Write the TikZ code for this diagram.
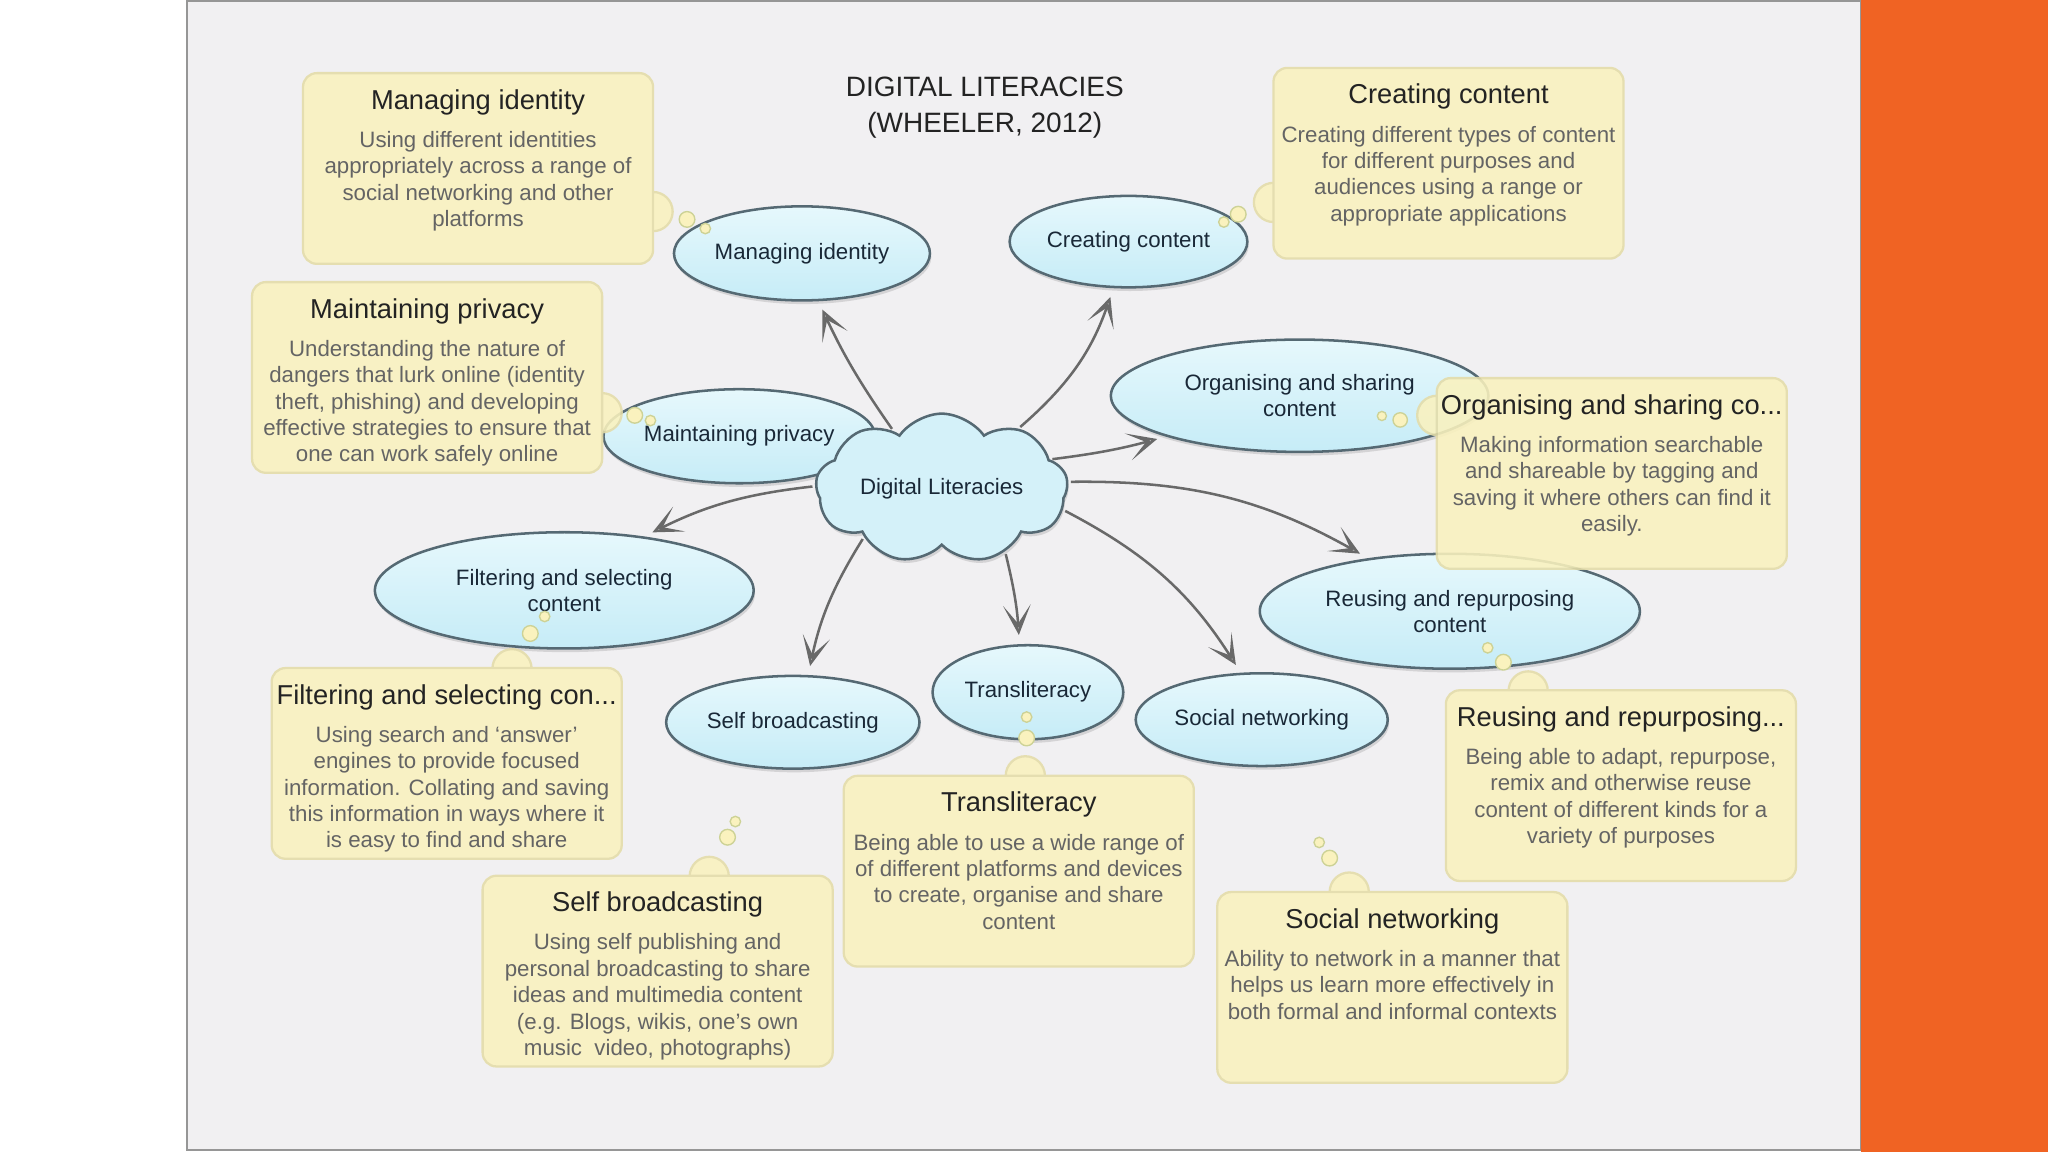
\documentclass[tikz,border=0pt]{standalone}
\usepackage{fontspec}
\setmainfont{Liberation Sans}
\usepackage{tikz}
\usetikzlibrary{shapes,shapes.geometric,shapes.symbols,arrows.meta,positioning,shadows}

\definecolor{slidebg}{RGB}{241,240,242}
\definecolor{slideline}{RGB}{150,150,150}
\definecolor{sidebar}{RGB}{240,99,35}
\definecolor{ellfill}{RGB}{198,236,247}
\definecolor{elltop}{RGB}{230,248,252}
\definecolor{ellline}{RGB}{85,105,115}
\definecolor{ellink}{RGB}{25,40,55}
\definecolor{notefill}{RGB}{250,242,190}
\definecolor{noteline}{RGB}{228,220,168}
\definecolor{notehead}{RGB}{35,35,35}
\definecolor{noteink}{RGB}{100,100,100}
\definecolor{puffline}{RGB}{205,210,150}
\definecolor{spokecol}{RGB}{105,105,105}

\tikzset{
  literacy/.style={ellipse, draw=ellline, line width=1.1pt, top color=elltop, bottom color=ellfill,
    inner sep=0pt, align=center, text=ellink, font=\fontsize{9.7}{11.4}\selectfont,
    drop shadow={opacity=0.25, shadow xshift=0.6pt, shadow yshift=-1.6pt}},
  hub/.style={cloud, cloud puffs=9, cloud puff arc=110, aspect=2, draw=ellline, line width=1.1pt,
    fill=ellfill!75!white, text=ellink, inner sep=0pt, font=\fontsize{9.7}{11.4}\selectfont,
    minimum width=3.86cm, minimum height=1.9cm,
    drop shadow={opacity=0.25, shadow xshift=0.6pt, shadow yshift=-1.6pt}},
  callout/.style={rectangle, rounded corners=6pt, draw=noteline, line width=1pt, fill=notefill,
    minimum width=5.36cm, minimum height=2.92cm},
  bump/.style={draw=noteline, line width=1pt, fill=notefill},
  noteGroup/.style={transparency group, opacity=0.88},
  calloutTitle/.style={inner sep=0pt, text=notehead, font=\fontsize{11.9}{14}\selectfont},
  calloutText/.style={inner sep=0pt, align=center, text=noteink, font=\fontsize{9.7}{11.5}\selectfont},
  puff/.style={draw=puffline, line width=0.6pt, fill=notefill},
  spoke/.style={draw=spokecol, line width=1.1pt, -{Stealth[open,length=13pt,width=12pt,inset=8pt]},
    shorten >=4pt, shorten <=1pt},
}

\begin{document}
\begin{tikzpicture}
    \useasboundingbox (0,0) rectangle (31.36,17.64);
    % Slide and side bar
    \fill[white] (0,0) rectangle (2.86,17.64);
    \draw[fill=slidebg, draw=slideline, line width=0.8pt] (2.86,0.03) rectangle (28.5,17.62);
    \fill[sidebar] (28.5,0) rectangle (31.36,17.64);

    % Heading
    \node[align=center, text=notehead, font=\fontsize{12.2}{15.4}\selectfont] (heading) at (15.08,15.99) {DIGITAL LITERACIES\\(WHEELER, 2012)};

    % Literacies
    \node[literacy, minimum width=3.92cm, minimum height=1.44cm] (mi) at (12.28,13.76) {Managing identity};
    \node[literacy, minimum width=3.64cm, minimum height=1.40cm] (cc) at (17.28,13.94) {Creating content};
    \node[literacy, minimum width=5.78cm, minimum height=1.72cm] (os) at (19.90,11.58) {Organising and sharing\\content};
    \node[literacy, minimum width=4.16cm, minimum height=1.44cm] (mp) at (11.32,10.96) {Maintaining privacy};
    \node[literacy, minimum width=5.80cm, minimum height=1.78cm] (fs) at (8.64,8.60) {Filtering and selecting\\content};
    \node[literacy, minimum width=5.82cm, minimum height=1.76cm] (rr) at (22.20,8.28) {Reusing and repurposing\\content};
    \node[literacy, minimum width=3.88cm, minimum height=1.42cm] (sb) at (12.14,6.58) {Self broadcasting};
    \node[literacy, minimum width=2.92cm, minimum height=1.44cm] (tl) at (15.74,7.04) {Transliteracy};
    \node[literacy, minimum width=3.86cm, minimum height=1.42cm] (sn) at (19.32,6.62) {Social networking};

    % Centre cloud
    \node[hub] (dl) at (14.42,10.16) {Digital Literacies};

    % Spokes
    \draw[spoke] (dl.130) to[bend left=5] (mi.-71);
    \draw[spoke] (dl.38) to[bend right=15] (cc.-108);
    \draw[spoke] (dl.15) to[bend right=4] (os.197);
    \draw[spoke] (dl.3) to[bend left=15] (rr.147);
    \draw[spoke] (dl.-10) to[bend left=15] (sn.114);
    \draw[spoke] (dl.-45) to[bend left=5] (tl.100);
    \draw[spoke] (dl.212) to[bend right=10] (sb.72);
    \draw[spoke] (dl.179) to[bend right=10] (fs.34);

    % Callouts
    \begin{scope}[noteGroup]
        \draw[bump] (10.0,14.40) circle (0.3);
        \node[callout] (miBox) at (7.32,15.06) {};
    \end{scope}
    \begin{scope}[noteGroup]
        \draw[bump] (19.5,14.54) circle (0.3);
        \node[callout] (ccBox) at (22.18,15.14) {};
    \end{scope}
    \begin{scope}[noteGroup]
        \draw[bump] (9.22,11.32) circle (0.3);
        \node[callout] (mpBox) at (6.54,11.86) {};
    \end{scope}
    \begin{scope}[noteGroup]
        \draw[bump] (22.0,11.28) circle (0.3);
        \node[callout] (osBox) at (24.68,10.39) {};
    \end{scope}
    \begin{scope}[noteGroup]
        \draw[bump] (7.84,7.40) circle (0.3);
        \node[callout] (fsBox) at (6.84,5.95) {};
    \end{scope}
    \begin{scope}[noteGroup]
        \draw[bump] (23.4,7.06) circle (0.3);
        \node[callout] (rrBox) at (24.82,5.61) {};
    \end{scope}
    \begin{scope}[noteGroup]
        \draw[bump] (10.86,4.22) circle (0.3);
        \node[callout] (sbBox) at (10.07,2.77) {};
    \end{scope}
    \begin{scope}[noteGroup]
        \draw[bump] (15.70,5.76) circle (0.3);
        \node[callout] (tlBox) at (15.60,4.30) {};
    \end{scope}
    \begin{scope}[noteGroup]
        \draw[bump] (20.66,3.98) circle (0.3);
        \node[callout] (snBox) at (21.32,2.52) {};
    \end{scope}

    % Callout texts
    \node[calloutTitle, below=0.26cm of miBox.north] (miHead) {Managing identity};
    \node[calloutText, below=0.9cm of miBox.north] (miText) {Using different identities\\appropriately across a range of\\social networking and other\\platforms};
    \node[calloutTitle, below=0.26cm of ccBox.north] (ccHead) {Creating content};
    \node[calloutText, below=0.9cm of ccBox.north] (ccText) {Creating different types of content\\for different purposes and\\audiences using a range or\\appropriate applications};
    \node[calloutTitle, below=0.26cm of mpBox.north] (mpHead) {Maintaining privacy};
    \node[calloutText, below=0.9cm of mpBox.north] (mpText) {Understanding the nature of\\dangers that lurk online (identity\\theft, phishing) and developing\\effective strategies to ensure that\\one can work safely online};
    \node[calloutTitle, below=0.26cm of osBox.north] (osHead) {Organising and sharing co...};
    \node[calloutText, below=0.9cm of osBox.north] (osText) {Making information searchable\\and shareable by tagging and\\saving it where others can find it\\easily.};
    \node[calloutTitle, below=0.26cm of fsBox.north] (fsHead) {Filtering and selecting con...};
    \node[calloutText, below=0.9cm of fsBox.north] (fsText) {Using search and `answer'\\engines to provide focused\\information. Collating and saving\\this information in ways where it\\is easy to find and share};
    \node[calloutTitle, below=0.26cm of rrBox.north] (rrHead) {Reusing and repurposing...};
    \node[calloutText, below=0.9cm of rrBox.north] (rrText) {Being able to adapt, repurpose,\\remix and otherwise reuse\\content of different kinds for a\\variety of purposes};
    \node[calloutTitle, below=0.26cm of sbBox.north] (sbHead) {Self broadcasting};
    \node[calloutText, below=0.9cm of sbBox.north] (sbText) {Using self publishing and\\personal broadcasting to share\\ideas and multimedia content\\(e.g. Blogs, wikis, one's own\\music \ video, photographs)};
    \node[calloutTitle, below=0.26cm of tlBox.north] (tlHead) {Transliteracy};
    \node[calloutText, below=0.9cm of tlBox.north] (tlText) {Being able to use a wide range of\\of different platforms and devices\\to create, organise and share\\content};
    \node[calloutTitle, below=0.26cm of snBox.north] (snHead) {Social networking};
    \node[calloutText, below=0.9cm of snBox.north] (snText) {Ability to network in a manner that\\helps us learn more effectively in\\both formal and informal contexts};

    % Thought puffs
    \draw[puff] (10.52,14.28) circle (0.12);
    \draw[puff] (10.80,14.14) circle (0.08);
    \draw[puff] (18.96,14.36) circle (0.12);
    \draw[puff] (18.74,14.24) circle (0.08);
    \draw[puff] (9.72,11.28) circle (0.12);
    \draw[puff] (9.96,11.20) circle (0.08);
    \draw[puff] (21.44,11.21) circle (0.11);
    \draw[puff] (21.16,11.27) circle (0.07);
    \draw[puff] (8.12,7.94) circle (0.12);
    \draw[puff] (8.34,8.20) circle (0.08);
    \draw[puff] (23.02,7.50) circle (0.12);
    \draw[puff] (22.78,7.72) circle (0.08);
    \draw[puff] (11.14,4.82) circle (0.12);
    \draw[puff] (11.26,5.06) circle (0.08);
    \draw[puff] (15.72,6.34) circle (0.12);
    \draw[puff] (15.72,6.66) circle (0.08);
    \draw[puff] (20.36,4.50) circle (0.12);
    \draw[puff] (20.20,4.74) circle (0.08);
\end{tikzpicture}
\end{document}
